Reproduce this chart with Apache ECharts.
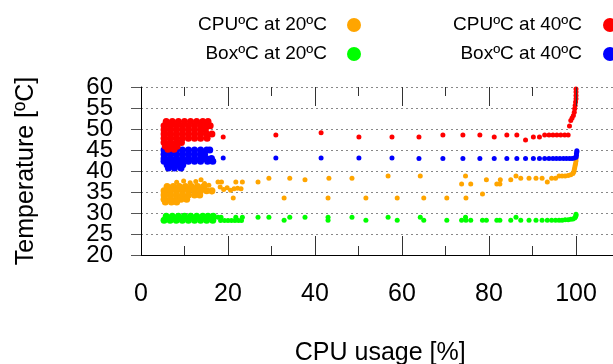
<!DOCTYPE html>
<html>
<head>
<meta charset="utf-8">
<script src="https://cdn.jsdelivr.net/npm/echarts@6/dist/echarts.min.js"></script>
<style>html,body{margin:0;padding:0;background:#fff}#c{width:613px;height:364px}</style>
</head>
<body>
<div id="c"></div>
<script>
// ---- data (x = CPU usage %, y = temperature ºC) ----
const seriesNames = ['CPUºC at 20ºC', 'CPUºC at 40ºC', 'BoxºC at 20ºC', 'BoxºC at 40ºC'];
const xMin = 0, xMax = 110, xStep = 20;
const yMin = 20, yMax = 60, yStep = 5;
const xMajorTicks = [20, 40, 60, 80, 100];
const xMinorTicks = [10, 30, 50, 70, 90];

// dense clusters at low CPU usage
const cpu20Dense = [
  [6,36.3],[7.4,36.3],[8.8,36.3],[10.2,36.3],[11.6,36.3],[13,36.3],[14.4,36.3],
  [5.3,35.3],[6.7,35.3],[8.1,35.3],[9.5,35.3],[10.9,35.3],[12.3,35.3],[13.7,35.3],[15.1,35.3],[16.3,35.3],
  [5.3,34.3],[6.7,34.3],[8.1,34.3],[9.5,34.3],[10.9,34.3],[12.3,34.3],[13.5,34.3],
  [5.3,33.3],[6.7,33.3],[8.1,33.3],[9.2,33.3],[10.5,33.3],
  [5.6,32.6],[7,32.6],[8.2,32.6]
];
const box20Dense = [
  [5.8,29.2],[7.2,29.2],[8.6,29.2],[10,29.2],[11.4,29.2],[12.8,29.2],[14.2,29.2],[15.4,29.2],[16.6,29.2],
  [5.3,28.3],[6.7,28.3],[8.1,28.3],[9.5,28.3],[10.9,28.3],[12.3,28.3],[13.7,28.3],[15.1,28.3],[16.5,28.3]
];
const box40Dense = [
  [5.3,45],[6.7,45],[8.1,45],[9.5,45],[10.9,45],[12.3,45],[13.7,45],[15.1,45],[15.8,45],
  [5.3,44],[6.7,44],[8.1,44],[9.5,44],[10.9,44],[12.3,44],[13.7,44],[14.6,44],
  [5.3,43],[6.7,43],[8.1,43],[9.5,43],[10.9,43],[12.3,43],[13.7,43],[15,43],[16.2,43],
  [5.3,42.3],[6.7,42.3],[8.1,42.3],[9.5,42.3],[10.9,42.3],[12.3,42.3],[13.7,42.3],[15.3,42.3],[16.5,42.3],
  [6,41.5],[7.4,41.5],[8.8,41.5],[9.6,41.5],
  [6.3,40.7],[7.7,40.7],[9.2,40.7]
];
const cpu40Dense = [
  [5.8,51.8],[7.2,51.8],[8.6,51.8],[10,51.8],[11.4,51.8],[12.8,51.8],[14.2,51.8],[15.4,51.8],
  [5.3,50.8],[6.7,50.8],[8.1,50.8],[9.5,50.8],[10.9,50.8],[12.3,50.8],[13.7,50.8],[15.1,50.8],[15.9,50.8],
  [5.3,49.8],[6.7,49.8],[8.1,49.8],[9.5,49.8],[10.9,49.8],[12.3,49.8],[13.7,49.8],[14.8,49.8],
  [5.3,48.8],[6.7,48.8],[8.1,48.8],[9.5,48.8],[10.9,48.8],[12.3,48.8],[13.7,48.8],[15.1,48.8],[16.3,48.8],
  [5.3,47.8],[6.7,47.8],[8.1,47.8],[9.5,47.8],[10.9,47.8],[12.3,47.8],[13.7,47.8],[15.2,47.8],
  [5.3,46.8],[6.7,46.8],[8.1,46.8],[9.3,46.8],
  [5.6,45.9],[7,45.9],[8.3,45.9],
  [6.2,45.2],[7.6,45.2]
];

// sparse samples
const cpu20 = [
  [8.2,37.3],[9.8,37.6],[11.3,37.2],[12.6,37.5],[13.8,37.9],[14.6,37],[15.6,36.6],[16.3,35],
  [17.7,37.4],[18.5,37.4],[18.2,36.2],[19,35.6],[19.8,36],[20.6,35.4],[21.4,35.8],[22.2,35.9],[23,35.8],
  [21.2,33.6],[21.8,37.4],[23.3,37.4],[26.9,37.4],[29.4,38.3],[32.9,33.6],[34.2,38.3],[37.7,37.9],
  [43,33.6],[43.2,38.3],[48.5,38.3],[51.7,33.6],[56.8,38.8],[58.9,33.6],[64.2,38.8],[65,33.6],
  [70.3,33.6],[73.7,36.9],[74.6,38.8],[74.7,33.6],[75.8,36.9],[78.5,34.5],[79.4,37.9],[81.8,36.9],
  [82.5,36.9],[82.6,37.9],[85,37.9],[86.2,38.8],[87.3,38.3],[89.2,38.3],[90.8,38.3],[92.2,38.3],
  [93.4,37.4],[94.4,38.3],[95.3,38.3],[96.1,38.8],[96.8,38.8],[97.5,38.8],[98.2,38.9],[98.8,39.1],
  [99.3,39.4],[99.5,39.8],[99.6,40.3],[99.7,40.8],[99.8,41.3],[99.9,41.8],[100,42.4],[100,43]
];
const box20 = [
  [17.7,29],[18.4,29],[18.3,28.2],[19.2,28.2],[20,28.2],[20.8,28.2],[21.6,28.2],[22.4,28.2],[23.1,28.2],
  [21.8,29],[23.3,29],[26.9,29],[29.4,29],[32.9,28.3],[34.2,29],[37.7,29],[43,29],[43,28.3],[48.5,29],
  [51.7,28.3],[56.8,29],[58.9,28.3],[64.2,29],[65,28.3],[70.3,28.3],[73.7,28.3],[74.6,29],[74.7,28.3],
  [75.8,28.3],[78.5,28.3],[79.4,28.3],[81.8,28.3],[82.5,28.3],[85,28.3],[86.2,29],[87.3,28.3],
  [89.2,28.3],[90.8,28.3],[92.2,28.3],[93.4,28.3],[94.4,28.3],[95.3,28.3],[96.1,28.3],[96.8,28.3],
  [97.5,28.4],[98.2,28.4],[98.8,28.5],[99.3,28.6],[99.7,28.8],[99.9,29.1],[100,29.4],[100,29.7]
];
const box40 = [
  [18.9,43.1],[31,43.1],[41.4,43.1],[50.1,43.1],[57.7,43.1],[63.9,43],[69.4,43],[74,43],[77.9,43],
  [81.2,43],[84.1,43],[86.4,43],[88.4,43],[90.2,43],[91.6,43],[92.8,43],[93.8,43],[94.7,43],[95.5,43],
  [96.3,43],[97.1,43],[97.8,43],[98.5,43],[99.1,43],[99.6,43.1],[100,43.3],[100.1,43.7],[100.1,44.1],
  [100.2,44.5],[100.2,44.8]
];
const cpu40 = [
  [18.9,48.1],[31,48.6],[41.4,49.1],[50.1,48.1],[57.7,48.1],[63.9,48.1],[69.4,48.6],[74,48.6],[77.9,48.6],
  [81.2,48.1],[84.1,48.6],[86.4,48.6],[88.4,47.4],[90.2,48.1],[91.6,48.1],[92.8,48.6],[93.8,48.6],
  [94.7,48.6],[95.6,48.6],[96.5,48.6],[97.4,48.6],[98.2,48.6],[98.5,50.7],[98.8,52],[99.1,52.6],
  [99.4,53.2],[99.6,54],[99.7,54.8],[99.8,55.6],[99.9,56.4],[100,57.2],[100,58],[100,58.8],[100,59.5]
];

const colors = { cpu20: '#ffa500', cpu40: '#ff0000', box20: '#00ff00', box40: '#0000ff' };
const FONT = '"Liberation Sans", Arial, sans-serif';

const chart = echarts.init(document.getElementById('c'));

// main plot rect; the label helper grids share the same scale
const plotLeft = 141, plotTop = 87, plotW = 478.5, plotH = 168;
const pxPerY = plotH / (yMax - yMin);
const mainGrid = { left: plotLeft, top: plotTop, width: plotW, height: plotH, outerBoundsMode: 'none' };
const halfGrid = { left: plotLeft, top: plotTop + yStep * pxPerY, width: plotW, height: plotH, outerBoundsMode: 'none' };
const tickStyle = { color: '#333', width: 1 };
const yLabelStyle = { fontSize: 24, color: '#000', margin: 28, fontFamily: FONT, showMinLabel: true, showMaxLabel: true };
const hiddenAxis = (gi, min, max) => ({ type: 'value', gridIndex: gi, min: min, max: max, show: false });

// frame and tick marks in data space (fallback so they always render)
const majorLen = 19 / pxPerY, minorLen = 9 / pxPerY;
const frameLines = [
  { xAxis: xMin, lineStyle: { color: '#000', width: 1, type: 'solid' } },
  { yAxis: yMin, lineStyle: { color: '#000', width: 1, type: 'solid' } }
];
function tickPairs(ticks, len) {
  const out = [];
  ticks.forEach(t => {
    out.push([{ coord: [t, yMin] }, { coord: [t, yMin + len] }]);
    out.push([{ coord: [t, yMax] }, { coord: [t, yMax - len] }]);
  });
  return out;
}

function sc(name, data, color, size) {
  return {
    type: 'scatter', name: name, data: data, symbol: 'circle', symbolSize: size,
    itemStyle: { color: color, opacity: 1 }, xAxisIndex: 0, yAxisIndex: 0,
    emphasis: { disabled: true }
  };
}

const firstSeries = sc(seriesNames[0], cpu20Dense, colors.cpu20, 7);
firstSeries.clip = false;
firstSeries.markLine = {
  silent: true, animation: false, symbol: ['none', 'none'], label: { show: false },
  emphasis: { disabled: true },
  lineStyle: { color: '#333', width: 1, type: 'solid' },
  data: frameLines.concat(tickPairs(xMajorTicks, majorLen), tickPairs(xMinorTicks, minorLen))
};

const legendText = (pad) => ({ fontFamily: FONT, fontSize: 19, color: '#000', lineHeight: 20, padding: [0, pad, 0, 0] });

chart.setOption({
  animation: false,
  legend: [
    { data: [seriesNames[0], seriesNames[2]], orient: 'vertical', align: 'right', right: 252, top: 15,
      padding: 0, itemGap: 9, itemWidth: 14, itemHeight: 14, icon: 'circle', textStyle: legendText(15), selectedMode: false },
    { data: [seriesNames[1], seriesNames[3]], orient: 'vertical', align: 'right', right: -4, top: 15,
      padding: 0, itemGap: 9, itemWidth: 14, itemHeight: 14, icon: 'circle', textStyle: legendText(16), selectedMode: false }
  ],
  grid: [Object.assign({}, mainGrid), Object.assign({}, mainGrid), Object.assign({}, mainGrid), halfGrid],
  xAxis: [
    {
      type: 'value', gridIndex: 0, min: xMin, max: xMax, interval: xStep,
      axisLine: { show: true, onZero: false, lineStyle: { color: '#000', width: 1 } },
      axisTick: { show: true, inside: true, length: 19, lineStyle: tickStyle },
      minorTick: { show: true, splitNumber: 2, length: 9, lineStyle: tickStyle },
      splitLine: { show: false }, axisLabel: { show: false },
      name: 'CPU usage [%]', nameLocation: 'middle', nameGap: 86,
      nameTextStyle: { fontSize: 25, color: '#000', fontFamily: FONT }
    },
    {
      type: 'value', gridIndex: 1, position: 'top', min: xMin, max: xMax, interval: xStep,
      axisLine: { show: false, onZero: false },
      axisTick: { show: true, inside: true, length: 19, lineStyle: tickStyle },
      minorTick: { show: true, splitNumber: 2, length: 9, lineStyle: tickStyle },
      splitLine: { show: false }, axisLabel: { show: false }
    },
    {
      type: 'value', gridIndex: 2, position: 'bottom', min: xMin, max: xMax, interval: xStep,
      axisLine: { show: false, onZero: false }, axisTick: { show: false }, splitLine: { show: false },
      axisLabel: { show: true, fontSize: 25, color: '#000', margin: 27, fontFamily: FONT, showMaxLabel: false,
        formatter: v => (v <= 100 ? String(v) : '') }
    },
    hiddenAxis(3, xMin, xMax)
  ],
  yAxis: [
    {
      type: 'value', gridIndex: 0, min: yMin, max: yMax, interval: yStep,
      axisLine: { show: true, onZero: false, lineStyle: { color: '#000', width: 1 } },
      axisTick: { show: true, inside: false, length: 10, lineStyle: { color: '#555', width: 1 } },
      axisLabel: { show: false },
      splitLine: { show: true, showMinLine: true, showMaxLine: true, lineStyle: { color: '#888', type: [2, 3], width: 1 } },
      name: 'Temperature [ºC]', nameLocation: 'middle', nameRotate: 90, nameGap: 102,
      nameTextStyle: { fontSize: 25, color: '#000', fontFamily: FONT }
    },
    {
      type: 'value', gridIndex: 1, min: yMin, max: yMax, interval: 2 * yStep,
      axisLine: { show: false, onZero: false }, axisTick: { show: false }, splitLine: { show: false },
      axisLabel: yLabelStyle
    },
    hiddenAxis(2, yMin, yMax),
    {
      type: 'value', gridIndex: 3, min: yMin - yStep, max: yMax - yStep, interval: 2 * yStep,
      axisLine: { show: false, onZero: false }, axisTick: { show: false }, splitLine: { show: false },
      axisLabel: Object.assign({}, yLabelStyle, { formatter: v => (v >= yMin ? String(v) : '') })
    }
  ],
  series: [
    firstSeries,
    sc(seriesNames[0], cpu20, colors.cpu20, 5),
    sc(seriesNames[2], box20Dense, colors.box20, 7),
    sc(seriesNames[2], box20, colors.box20, 5),
    sc(seriesNames[3], box40Dense, colors.box40, 7),
    sc(seriesNames[3], box40, colors.box40, 5),
    sc(seriesNames[1], cpu40Dense, colors.cpu40, 7),
    sc(seriesNames[1], cpu40, colors.cpu40, 5)
  ]
});
</script>
</body>
</html>
